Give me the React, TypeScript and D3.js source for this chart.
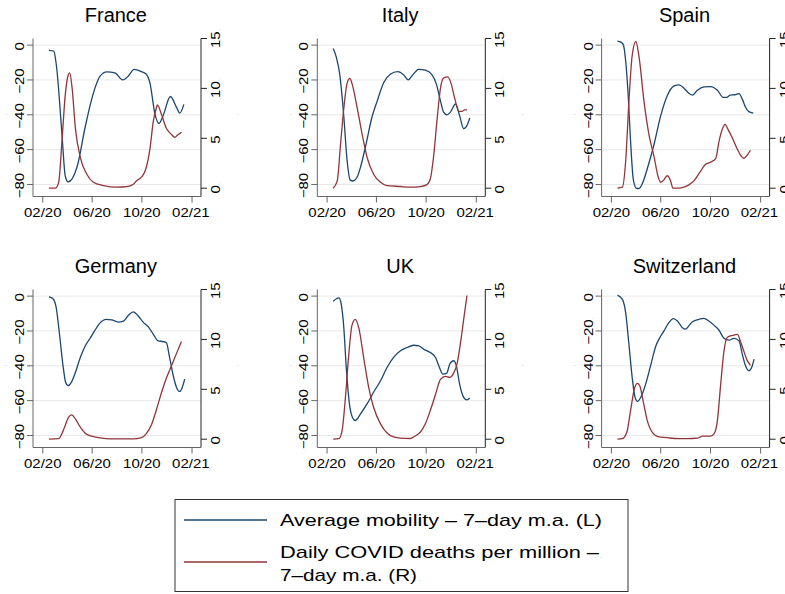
import React from 'react';
import * as d3 from 'd3';

const W = 785;
const H = 594;
const BLUE = '#1a476f';
const RED = '#90353b';
const FONT = '"Liberation Sans", Arial, Helvetica, sans-serif';

type Pt = [string, number];

const franceMobility: Pt[] = [
  ['2020-02-16', -3], ['2020-02-28', -3.5], ['2020-03-05', -11], ['2020-03-19', -51], ['2020-03-27', -75],
  ['2020-04-03', -78.5], ['2020-04-25', -70], ['2020-05-15', -47], ['2020-05-31', -31], ['2020-06-21', -17.7],
  ['2020-07-07', -15.4], ['2020-07-27', -16], ['2020-08-15', -20], ['2020-08-29', -17.7], ['2020-09-12', -13.9],
  ['2020-09-30', -15.2], ['2020-10-12', -16.7], ['2020-10-21', -22], ['2020-11-02', -39.5], ['2020-11-12', -45],
  ['2020-11-22', -40.5], ['2020-12-10', -29.5], ['2020-12-25', -35.7], ['2021-01-02', -39], ['2021-01-12', -34],
];
const franceDeaths: Pt[] = [
  ['2020-02-16', 0], ['2020-03-03', 0], ['2020-03-11', 0.6], ['2020-03-19', 4.7], ['2020-03-27', 9.3],
  ['2020-04-03', 11.3], ['2020-04-07', 11.55], ['2020-04-13', 10], ['2020-04-21', 6], ['2020-05-03', 3.1],
  ['2020-05-19', 1.4], ['2020-06-04', 0.6], ['2020-06-29', 0.26], ['2020-07-31', 0.1], ['2020-08-25', 0.15],
  ['2020-09-10', 0.4], ['2020-09-18', 0.75], ['2020-09-30', 1.1], ['2020-10-12', 2.1], ['2020-10-21', 4],
  ['2020-10-29', 6.7], ['2020-11-06', 8.1], ['2020-11-08', 8.35], ['2020-11-18', 7.4], ['2020-11-30', 6],
  ['2020-12-12', 5.4], ['2020-12-21', 5.1], ['2020-12-27', 5.3], ['2021-01-06', 5.6],
];

const italyMobility: Pt[] = [
  ['2020-02-16', -1.9], ['2020-02-24', -7.2], ['2020-03-03', -16.7], ['2020-03-13', -41], ['2020-03-21', -66],
  ['2020-03-29', -77.5], ['2020-04-04', -78], ['2020-04-15', -75.6], ['2020-04-23', -70], ['2020-05-05', -58.5],
  ['2020-05-21', -41.4], ['2020-06-03', -32], ['2020-06-19', -21.5], ['2020-07-05', -16.7], ['2020-07-23', -15.2],
  ['2020-08-07', -17.1], ['2020-08-18', -20], ['2020-08-27', -17.7], ['2020-09-13', -13.9], ['2020-09-29', -14.4],
  ['2020-10-15', -17], ['2020-10-26', -22.4], ['2020-11-05', -32], ['2020-11-13', -38.6], ['2020-11-21', -40],
  ['2020-11-29', -38.6], ['2020-12-12', -33.8], ['2020-12-22', -40.5], ['2021-01-01', -48], ['2021-01-07', -47],
  ['2021-01-16', -41.8],
];
const italyDeaths: Pt[] = [
  ['2020-02-16', 0], ['2020-02-26', 0.76], ['2020-03-05', 4.4], ['2020-03-13', 8], ['2020-03-21', 10.5],
  ['2020-03-28', 11], ['2020-04-02', 10.5], ['2020-04-15', 8], ['2020-04-27', 5.4], ['2020-05-09', 3.1],
  ['2020-05-25', 1.4], ['2020-06-11', 0.6], ['2020-06-27', 0.26], ['2020-07-30', 0.17], ['2020-08-23', 0.1],
  ['2020-09-17', 0.17], ['2020-10-03', 0.36], ['2020-10-11', 0.9], ['2020-10-19', 3.1], ['2020-10-28', 7.0],
  ['2020-11-05', 10], ['2020-11-13', 11.05], ['2020-11-23', 11.15], ['2020-12-01', 10.5], ['2020-12-10', 9],
  ['2020-12-20', 7.7], ['2020-12-28', 7.7], ['2021-01-03', 7.85], ['2021-01-09', 7.85],
];

const spainMobility: Pt[] = [
  ['2020-02-16', 2.3], ['2020-02-24', 1.7], ['2020-03-01', 0.4], ['2020-03-07', -9], ['2020-03-13', -28],
  ['2020-03-19', -55], ['2020-03-26', -77.5], ['2020-04-03', -82.3], ['2020-04-09', -82.3], ['2020-04-17', -79.5],
  ['2020-04-29', -71], ['2020-05-16', -56.6], ['2020-06-01', -40.5], ['2020-06-17', -29], ['2020-07-04', -23.4],
  ['2020-07-16', -22.8], ['2020-07-28', -24.7], ['2020-08-09', -27.6], ['2020-08-18', -28.7], ['2020-08-30', -25.9],
  ['2020-09-15', -24], ['2020-10-01', -23.8], ['2020-10-18', -25.9], ['2020-11-01', -30], ['2020-11-10', -30],
  ['2020-11-18', -28.7], ['2020-11-30', -28.5], ['2020-12-10', -27.8], ['2020-12-18', -31], ['2020-12-26', -35.7],
  ['2021-01-03', -38.2], ['2021-01-14', -39],
];
const spainDeaths: Pt[] = [
  ['2020-02-16', 0], ['2020-02-28', 0.1], ['2020-03-07', 2.7], ['2020-03-15', 8.7], ['2020-03-23', 13.3],
  ['2020-04-01', 14.7], ['2020-04-09', 13.1], ['2020-04-21', 8.7], ['2020-05-03', 5.4], ['2020-05-16', 3.1],
  ['2020-05-25', 1.25], ['2020-06-01', 0.6], ['2020-06-07', 0.76], ['2020-06-17', 1.25], ['2020-06-25', 0.76],
  ['2020-07-01', 0], ['2020-07-16', 0], ['2020-07-28', 0.1], ['2020-08-09', 0.33], ['2020-08-22', 0.76],
  ['2020-09-05', 1.6], ['2020-09-19', 2.4], ['2020-10-01', 2.6], ['2020-10-14', 3.0], ['2020-10-22', 4.7],
  ['2020-10-30', 5.9], ['2020-11-06', 6.4], ['2020-11-13', 5.9], ['2020-11-24', 5.0], ['2020-12-06', 3.9],
  ['2020-12-14', 3.3], ['2020-12-22', 3.0], ['2020-12-30', 3.3], ['2021-01-07', 3.8],
];

const germanyMobility: Pt[] = [
  ['2020-02-16', -0.4], ['2020-02-26', -1.5], ['2020-03-05', -6.7], ['2020-03-13', -21.9], ['2020-03-22', -40.6],
  ['2020-03-28', -49.5], ['2020-04-03', -51.4], ['2020-04-11', -49.5], ['2020-04-21', -43.8], ['2020-05-03', -35.2],
  ['2020-05-15', -28.6], ['2020-05-27', -24.2], ['2020-06-07', -20], ['2020-06-21', -15.2], ['2020-07-05', -13.3],
  ['2020-07-19', -13.7], ['2020-08-04', -14.9], ['2020-08-17', -14.3], ['2020-08-29', -11], ['2020-09-10', -9],
  ['2020-09-22', -11.4], ['2020-10-04', -14.9], ['2020-10-17', -17.7], ['2020-10-29', -21.9], ['2020-11-10', -25.7],
  ['2020-11-22', -26.1], ['2020-11-30', -26.7], ['2020-12-08', -35.2], ['2020-12-17', -45.7], ['2020-12-25', -52.4],
  ['2021-01-02', -54.7], ['2021-01-08', -52.4], ['2021-01-14', -47.6],
];
const germanyDeaths: Pt[] = [
  ['2020-02-16', 0], ['2020-03-11', 0.05], ['2020-03-19', 0.56], ['2020-03-27', 1.38], ['2020-04-04', 2.2],
  ['2020-04-12', 2.43], ['2020-04-21', 2.03], ['2020-05-03', 1.2], ['2020-05-15', 0.6], ['2020-05-31', 0.3],
  ['2020-06-21', 0.13], ['2020-07-15', 0.03], ['2020-09-10', 0.03], ['2020-09-30', 0.16], ['2020-10-12', 0.56],
  ['2020-10-25', 1.5], ['2020-11-06', 3.0], ['2020-11-18', 4.66], ['2020-11-30', 6.1], ['2020-12-12', 7.3],
  ['2020-12-25', 8.6], ['2021-01-06', 9.8],
];

const ukMobility: Pt[] = [
  ['2020-02-16', -2.9], ['2020-02-24', -1.5], ['2020-03-01', -1], ['2020-03-06', -3.8], ['2020-03-13', -18],
  ['2020-03-19', -41], ['2020-03-28', -64], ['2020-04-03', -69.5], ['2020-04-10', -71.4], ['2020-04-23', -67.6],
  ['2020-05-09', -61.9], ['2020-05-25', -55.2], ['2020-06-11', -48.6], ['2020-06-27', -41], ['2020-07-13', -35.2],
  ['2020-07-30', -31.4], ['2020-08-15', -29.5], ['2020-08-31', -28.2], ['2020-09-13', -28.6], ['2020-09-25', -30.5],
  ['2020-10-11', -32.4], ['2020-10-24', -35.2], ['2020-11-01', -40], ['2020-11-11', -44.8], ['2020-11-20', -44.4],
  ['2020-11-28', -39], ['2020-12-07', -37.1], ['2020-12-14', -40], ['2020-12-22', -50.5], ['2021-01-01', -58.1],
  ['2021-01-09', -59.6], ['2021-01-16', -58.5],
];
const ukDeaths: Pt[] = [
  ['2020-02-16', 0], ['2020-03-01', 0.05], ['2020-03-09', 0.9], ['2020-03-17', 4.2], ['2020-03-25', 8.4],
  ['2020-04-02', 11.4], ['2020-04-10', 12.0], ['2020-04-19', 11.1], ['2020-05-01', 8.1], ['2020-05-13', 5.2],
  ['2020-05-25', 3.2], ['2020-06-11', 1.54], ['2020-06-27', 0.62], ['2020-07-13', 0.23], ['2020-07-30', 0.1],
  ['2020-08-23', 0.07], ['2020-09-03', 0.3], ['2020-09-17', 0.72], ['2020-09-29', 1.54], ['2020-10-11', 2.86],
  ['2020-10-24', 4.5], ['2020-11-05', 6.0], ['2020-11-17', 6.3], ['2020-11-28', 6.2], ['2020-12-07', 6.6],
  ['2020-12-16', 7.6], ['2020-12-24', 9.6], ['2021-01-01', 12.0], ['2021-01-09', 14.4],
];

const swissMobility: Pt[] = [
  ['2020-02-16', 0.6], ['2020-02-28', -1.9], ['2020-03-07', -9.5], ['2020-03-15', -27.6], ['2020-03-23', -46.7],
  ['2020-03-30', -58.1], ['2020-04-05', -60.4], ['2020-04-13', -58.1], ['2020-04-25', -50.5], ['2020-05-07', -40],
  ['2020-05-20', -28.6], ['2020-06-01', -22.9], ['2020-06-09', -20], ['2020-06-21', -15.2], ['2020-07-02', -12.95],
  ['2020-07-12', -14.3], ['2020-07-24', -18.1], ['2020-08-01', -19], ['2020-08-09', -17.1], ['2020-08-18', -14.7],
  ['2020-09-03', -13.3], ['2020-09-15', -12.8], ['2020-09-27', -14.3], ['2020-10-10', -16.8], ['2020-10-22', -19.6],
  ['2020-11-03', -24.2], ['2020-11-15', -25.3], ['2020-11-28', -24.2], ['2020-12-10', -25.7], ['2020-12-18', -33.3],
  ['2020-12-26', -40], ['2021-01-03', -42.9], ['2021-01-10', -41], ['2021-01-16', -36.2],
];
const swissDeaths: Pt[] = [
  ['2020-02-16', 0], ['2020-02-28', 0.05], ['2020-03-10', 0.72], ['2020-03-19', 2.86], ['2020-03-29', 5.15],
  ['2020-04-05', 5.6], ['2020-04-11', 5.3], ['2020-04-19', 3.8], ['2020-04-29', 1.87], ['2020-05-11', 0.72],
  ['2020-05-28', 0.23], ['2020-06-17', 0.16], ['2020-07-04', 0.07], ['2020-08-05', 0.05], ['2020-08-30', 0.1],
  ['2020-09-11', 0.3], ['2020-10-01', 0.3], ['2020-10-10', 0.56], ['2020-10-18', 1.87], ['2020-10-26', 5.5],
  ['2020-11-03', 8.8], ['2020-11-11', 10.2], ['2020-11-24', 10.4], ['2020-12-06', 10.5], ['2020-12-14', 9.75],
  ['2020-12-22', 8.8], ['2020-12-30', 7.9], ['2021-01-07', 7.4],
];

const countries = ['France', 'Italy', 'Spain', 'Germany', 'UK', 'Switzerland'];
const mobilitySeries = [franceMobility, italyMobility, spainMobility, germanyMobility, ukMobility, swissMobility];
const deathSeries = [franceDeaths, italyDeaths, spainDeaths, germanyDeaths, ukDeaths, swissDeaths];

const leftTicks = [0, -20, -40, -60, -80];
const rightTicks = [0, 5, 10, 15];
const dateTicks = ['2020-02-01', '2020-06-01', '2020-10-01', '2021-02-01'];
const dateTickLabels = ['02/20', '06/20', '10/20', '02/21'];
const legendLabels = ['Average mobility – 7–day m.a. (L)', 'Daily COVID deaths per million –', '7–day m.a. (R)'];

const parse = d3.timeParse('%Y-%m-%d');
const fmt = (v: number) => (v < 0 ? '\u2212' + Math.abs(v) : String(v));

const DOT = '#c4c4c4';
const AXIS_L = '#666';
const AXIS_R = '#222';

function Panel({ idx }: { idx: number }) {
  const c = idx % 3;
  const r = Math.floor(idx / 3);
  const left = 33 + c * 284.3;
  const right = left + 168;
  const top = 38.5 + r * 251;
  const bottom = 196.5 + r * 251;

  const x = d3.scaleTime().domain([parse('2020-01-08')!, parse('2021-02-23')!]).range([left, right]);
  const yL = d3.scaleLinear().domain([-86.9, 3.8]).range([bottom, top]);
  const yR = d3.scaleLinear().domain([-0.83, 15]).range([bottom, top]);

  const lineL = d3.line<Pt>().x(d => x(parse(d[0])!)).y(d => yL(d[1])).curve(d3.curveMonotoneX);
  const lineR = d3.line<Pt>().x(d => x(parse(d[0])!)).y(d => yR(d[1])).curve(d3.curveMonotoneX);
  const midY = yL(-40);

  return (
    <g>
      {leftTicks.map(t => (
        <line key={'g' + t} x1={left} x2={right} y1={yL(t)} y2={yL(t)} stroke="#e8e8e8" strokeWidth={1} />
      ))}
      <text x={(left + right) / 2} y={22 + r * 251} textAnchor="middle" fontSize={20} fontFamily={FONT} fill="#000">
        {countries[idx]}<tspan fill={DOT} fontSize={8}>.</tspan>
      </text>
      <path d={lineL(mobilitySeries[idx]) || ''} fill="none" stroke={BLUE} strokeWidth={1.3} />
      <path d={lineR(deathSeries[idx]) || ''} fill="none" stroke={RED} strokeWidth={1.3} />
      {/* left axis */}
      <line x1={left} x2={left} y1={top} y2={bottom} stroke={AXIS_L} strokeWidth={1} />
      {leftTicks.map(t => (
        <g key={'l' + t}>
          <line x1={left - 6} x2={left} y1={yL(t)} y2={yL(t)} stroke={AXIS_L} strokeWidth={1} />
          <text transform={`translate(${left - 9},${yL(t)}) rotate(-90) scale(1.2,1)`} textAnchor="middle"
            fontSize={12.5} fontFamily={FONT} fill="#000">
            {fmt(t)}<tspan fill={DOT} fontSize={7}>.</tspan>
          </text>
        </g>
      ))}
      {/* right axis */}
      <line x1={right} x2={right} y1={top} y2={bottom} stroke={AXIS_R} strokeWidth={1} />
      {rightTicks.map(t => (
        <g key={'r' + t}>
          <line x1={right} x2={right + 6} y1={yR(t)} y2={yR(t)} stroke={AXIS_R} strokeWidth={1} />
          <text transform={`translate(${right + 19},${yR(t)}) rotate(-90) scale(1.2,1)`} textAnchor="middle"
            fontSize={12.5} fontFamily={FONT} fill="#000">
            {fmt(t)}<tspan fill={DOT} fontSize={7}>.</tspan>
          </text>
        </g>
      ))}
      {/* bottom axis */}
      <line x1={left} x2={right} y1={bottom} y2={bottom} stroke={AXIS_L} strokeWidth={1} />
      {dateTicks.map((d, i) => {
        const xx = x(parse(d)!);
        return (
          <g key={'x' + d}>
            <line x1={xx} x2={xx} y1={bottom} y2={bottom + 6} stroke={AXIS_L} strokeWidth={1} />
            <text transform={`translate(${xx},${bottom + 20}) scale(1.2,1)`} textAnchor="middle"
              fontSize={12.5} fontFamily={FONT} fill="#000">
              {dateTickLabels[i]}{i === 3 ? <tspan fill={DOT} fontSize={7}>.</tspan> : null}
            </text>
          </g>
        );
      })}
      {/* empty axis titles */}
      <text x={left - 28} y={midY} fontSize={9} fill={DOT} fontFamily={FONT}>.</text>
      <text x={right + 36} y={midY} fontSize={9} fill={DOT} fontFamily={FONT}>.</text>
    </g>
  );
}

function Legend() {
  const bx = 175, by = 499.5, bw = 453, bh = 92;
  const lineX1 = 184, lineX2 = 267, tx = 280;
  const lens = [322, 319, 137];
  const bases = [526, 558, 581];
  return (
    <g>
      <rect x={bx} y={by} width={bw} height={bh} fill="#fff" stroke="#333" strokeWidth={1} />
      <line x1={lineX1} x2={lineX2} y1={520} y2={520} stroke={BLUE} strokeWidth={1.3} />
      <line x1={lineX1} x2={lineX2} y1={562} y2={562} stroke={RED} strokeWidth={1.3} />
      {legendLabels.map((lab, i) => (
        <g key={lab}>
          <text x={tx} y={bases[i]} fontSize={17} fontFamily={FONT} fill="#000" textLength={lens[i]}
            lengthAdjust="spacingAndGlyphs">{lab}</text>
          <text x={tx + lens[i] + 1} y={bases[i]} fontSize={9} fontFamily={FONT} fill={DOT}>.</text>
        </g>
      ))}
    </g>
  );
}

export default function App() {
  return (
    <svg width={W} height={H} viewBox={`0 0 ${W} ${H}`}
      style={{ position: 'absolute', left: 0, top: 0, display: 'block', background: '#fff' }}>
      <rect x={0} y={0} width={W} height={H} fill="#fff" />
      {countries.map((_, i) => <Panel key={i} idx={i} />)}
      <Legend />
    </svg>
  );
}
